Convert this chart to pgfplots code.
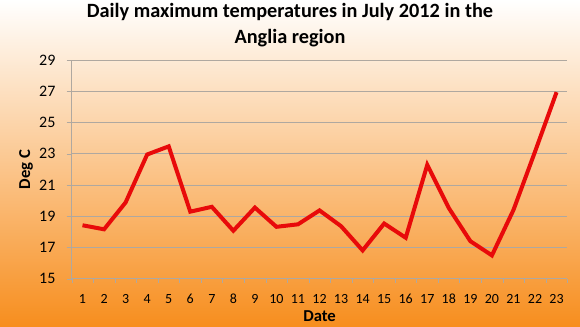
\documentclass[border=0pt]{standalone}
\usepackage{pgfplots}
\pgfplotsset{compat=1.18}
\usepackage{fontspec}
\setmainfont{Carlito}
\definecolor{bgorange}{RGB}{247,142,30}
\definecolor{linered}{RGB}{232,10,10}
\definecolor{gridgray}{RGB}{175,168,160}
\begin{document}
\begin{tikzpicture}
\shade[top color=white, bottom color=bgorange] (0,0) rectangle (435pt,244.5pt);
\node[font=\bfseries\fontsize{15.2}{19.5}\selectfont, align=center] at (217.5pt,225.5pt)
  {Daily maximum temperatures in July 2012 in the\\Anglia region};
\begin{axis}[
  at={(53.8pt,35.5pt)}, anchor=south west,
  scale only axis, width=371.7pt, height=164pt,
  xmin=0.5, xmax=23.5, ymin=15, ymax=29,
  xtick={1,...,23}, ytick={15,17,...,29},
  minor xtick={0.5,1.5,...,23.5},
  tick align=outside,
  major tick length=3.75pt, minor tick length=3pt,
  major x tick style={draw=none},
  minor x tick style={draw=gridgray},
  ytick style={draw=gridgray},
  axis x line*=bottom, axis y line*=left,
  axis line style={draw=gridgray, -},
  ymajorgrids, grid style={draw=gridgray, line width=0.6pt},
  /pgf/number format/assume math mode=true,
  yticklabel style={font=\fontsize{12}{14}\selectfont, xshift=-5pt},
  xticklabel style={font=\fontsize{10.5}{12}\selectfont, yshift=-4.5pt},
  xlabel={Date}, ylabel={Deg C},
  every axis x label/.style={at={(axis description cs:0.5,0)}, anchor=center, yshift=-28pt, font=\bfseries\fontsize{12.5}{14}\selectfont},
  every axis y label/.style={at={(axis description cs:0,0.5)}, anchor=center, xshift=-34.3pt, rotate=90, font=\bfseries\fontsize{12.5}{14}\selectfont},
]
\addplot[color=linered, line width=3pt, line join=miter, mark=none] coordinates {
(1,18.42) (2,18.16) (3,19.88) (4,22.95) (5,23.47) (6,19.29) (7,19.60) (8,18.07)
(9,19.55) (10,18.32) (11,18.48) (12,19.37) (13,18.36) (14,16.81) (15,18.53)
(16,17.62) (17,22.29) (18,19.52) (19,17.40) (20,16.49) (21,19.40) (22,23.13) (23,26.94)
};
\end{axis}
\pgfresetboundingbox
\path (0,0) rectangle (435pt,244.5pt);
\end{tikzpicture}
\end{document}
